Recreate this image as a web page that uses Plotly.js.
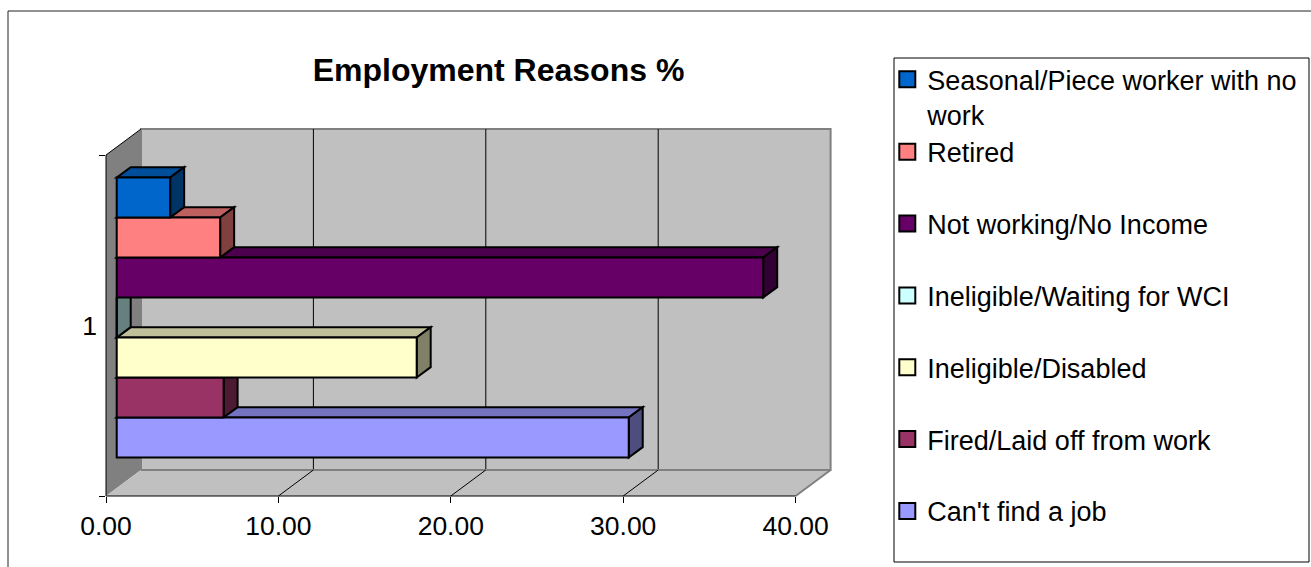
<!DOCTYPE html>
<html><head><meta charset="utf-8">
<script src="https://cdn.plot.ly/plotly-3.0.1.min.js"></script>
<style>html,body{margin:0;padding:0;background:#fff;overflow:hidden}#chart{width:1311px;height:567px}</style>
</head><body><div id="chart"></div>
<script>
// ---------------- data ----------------
const CATEGORIES = ['1'];
const SERIES = ["Can't find a job", "Fired/Laid off from work", "Ineligible/Disabled",
  "Ineligible/Waiting for WCI", "Not working/No Income", "Retired", "Seasonal/Piece worker with no work"];
const LEGEND_LABELS = ["Can't find a job", "Fired/Laid off from work", "Ineligible/Disabled",
  "Ineligible/Waiting for WCI", "Not working/No Income", "Retired", "Seasonal/Piece worker with no<br>work"];
const VALUES = [29.7, 6.2, 17.4, 0.0, 37.5, 6.0, 3.1];
const COLORS = ['#9999FF', '#993366', '#FFFFCC', '#CCFFFF', '#660066', '#FF8080', '#0066CC'];
const X_TICKS = [0, 10, 20, 30, 40];
const X_MAX = 40;
const TITLE = 'Employment Reasons %';

// ---------------- layout geometry (pixels) ----------------
const FONT = 'Liberation Sans, Arial, Helvetica, sans-serif';
const PL = 96, PR = 841, PT = 40, PB = 506;
const W = PR - PL, H = PB - PT;
const FRONT_X0 = 106;
const FRONT_TOP = 155, FRONT_BOT = 496;
const SX = 17.24;
const SY = FRONT_BOT - FRONT_TOP;
const FYC = (FRONT_TOP + FRONT_BOT) / 2;
const DXP = 35, DYP = 26;
const BF = 0.306, BD = 0.4;
const BAR_PX = 40;

const barX0 = FRONT_X0 + BF * DXP;
const barYC = FYC - BF * DYP;
const xRange = [(PL - barX0) / SX, (PR - barX0) / SX];
const yRange = [(barYC - PB) / SY, (barYC - PT) / SY];
const x2Range = [0, (PR - FRONT_X0) / SX];
const y2Range = [-0.5, -0.5 + (FRONT_BOT - PT) / SY];
const DXU = DXP / SX, DYU = DYP / SY;
function P(f, v, yb) { return [v + (f - BF) * DXU, yb + (f - BF) * DYU]; }
const pxX = px => (px - PL) / W;
const pxY = py => (PB - py) / H;

const n = VALUES.length;
const bargap = 1 - n * BAR_PX / SY;
const bandW = (1 - bargap) / n;

function shade(hex, k) {
  const c = parseInt(hex.slice(1), 16);
  const r = Math.round(((c >> 16) & 255) * k), g = Math.round(((c >> 8) & 255) * k), b = Math.round((c & 255) * k);
  return `rgb(${r},${g},${b})`;
}

const shapes = [];
function poly(pts, fill, lc, lw) {
  const path = 'M' + pts.map(p => p[0].toFixed(5) + ',' + p[1].toFixed(5)).join('L') + 'Z';
  shapes.push({type: 'path', xref: 'x', yref: 'y', path, fillcolor: fill,
    line: {color: lc, width: lw}, layer: 'below'});
}
function seg(a, b, color, width) {
  shapes.push({type: 'line', xref: 'x', yref: 'y', x0: a[0], y0: a[1], x1: b[0], y1: b[1],
    line: {color, width}, layer: 'below'});
}

// back wall
poly([P(1, 0, -0.5), P(1, 0, 0.5), P(1, X_MAX, 0.5), P(1, X_MAX, -0.5)], '#C0C0C0', '#808080', 2);
X_TICKS.filter(v => v > 0 && v < X_MAX).forEach(v => seg(P(1, v, -0.5), P(1, v, 0.5), '#000', 1));
// left wall
poly([P(0, 0, -0.5), P(0, 0, 0.5), P(1, 0, 0.5), P(1, 0, -0.5)], '#808080', 'rgba(0,0,0,0)', 0);
seg(P(0, 0, 0.5), P(1, 0, 0.5), '#000', 1);
seg(P(0, 0, -0.5), P(0, 0, 0.5), '#000', 1);
// floor
poly([P(0, 0, -0.5), P(1, 0, -0.5), P(1, X_MAX, -0.5), P(0, X_MAX, -0.5)], '#C0C0C0', 'rgba(0,0,0,0)', 0);
seg(P(1, 0, -0.5), P(1, X_MAX, -0.5), '#808080', 2);
X_TICKS.filter(v => v > 0 && v < X_MAX).forEach(v => seg(P(0, v, -0.5), P(1, v, -0.5), '#000', 1));
seg(P(0, X_MAX, -0.5), P(1, X_MAX, -0.5), '#808080', 2);
seg(P(0, 0, -0.5), P(0, X_MAX, -0.5), '#000', 1);

// 3D faces of the bars (bottom bar first)
VALUES.forEach((v, i) => {
  const lo = -0.5 + bargap / 2 + i * bandW, hi = lo + bandW;
  const f0 = BF, f1 = BF + BD;
  poly([P(f0, 0, hi), P(f0, v, hi), P(f1, v, hi), P(f1, 0, hi)], shade(COLORS[i], 0.75), '#000', 2);
  poly([P(f0, v, lo), P(f1, v, lo), P(f1, v, hi), P(f0, v, hi)], shade(COLORS[i], 0.5), '#000', 2);
});

// outer chart frame and legend box (paper)
shapes.push({type: 'line', xref: 'paper', yref: 'paper', x0: pxX(8), y0: pxY(11), x1: pxX(1320), y1: pxY(11), line: {color: '#222', width: 1}});
shapes.push({type: 'line', xref: 'paper', yref: 'paper', x0: pxX(8), y0: pxY(11), x1: pxX(8), y1: pxY(580), line: {color: '#222', width: 1}});
shapes.push({type: 'rect', xref: 'paper', yref: 'paper', x0: pxX(894), y0: pxY(58), x1: pxX(1309), y1: pxY(562), line: {color: '#000', width: 1}, fillcolor: 'rgba(0,0,0,0)'});

const traces = SERIES.map((name, i) => ({
  type: 'bar', orientation: 'h', name: LEGEND_LABELS[i], x: [VALUES[i]], y: CATEGORIES,
  marker: {color: COLORS[i], line: {color: '#000', width: 2}},
  legend: i === n - 1 ? 'legend' : 'legend2', legendgroup: 'g' + i, legendrank: n - i,
  xaxis: 'x', yaxis: 'y', hovertemplate: name + ': %{x:.2f}<extra></extra>'
}));
// empty trace that registers the front (labelled) axes x2/y2
traces.push({type: 'scatter', x: [], y: [], xaxis: 'x2', yaxis: 'y2', showlegend: false, hoverinfo: 'skip'});

const LFS = 27;
const tickFont = {family: FONT, size: 26.5, color: '#000'};
const legendFont = {family: FONT, size: LFS, color: '#000'};
const itemH = LFS * 1.3 + 3;
const layout = {
  width: 1311, height: 567,
  margin: {l: PL, r: 1311 - PR, t: PT, b: 567 - PB, autoexpand: false},
  paper_bgcolor: '#fff', plot_bgcolor: 'rgba(0,0,0,0)',
  font: {family: FONT, color: '#000'},
  barmode: 'group', bargap: bargap, bargroupgap: 0,
  title: {text: TITLE, font: {family: FONT, size: 32, weight: 'bold', color: '#000'},
    xref: 'paper', x: pxX(498.5), xanchor: 'center', yref: 'container', y: 1 - 69.5 / 567, yanchor: 'middle'},
  xaxis: {range: xRange, showgrid: false, zeroline: false, showline: false, showticklabels: false, ticks: '', fixedrange: true},
  yaxis: {type: 'category', range: yRange, showgrid: false, zeroline: false, showline: false, showticklabels: false, ticks: '', fixedrange: true},
  xaxis2: {anchor: 'y2', domain: [pxX(FRONT_X0), 1], range: x2Range, type: 'linear',
    tickmode: 'array', tickvals: X_TICKS, tickformat: '.2f', ticks: 'outside', ticklen: 6, tickwidth: 1, tickcolor: '#000',
    showgrid: false, zeroline: false, showline: false, tickfont: tickFont},
  yaxis2: {anchor: 'x2', domain: [pxY(FRONT_BOT), 1], type: 'linear', range: y2Range,
    tickmode: 'array', tickvals: [0], ticktext: CATEGORIES, ticks: '', ticklabelstandoff: 8,
    minor: {tickmode: 'array', tickvals: [-0.5, 0.5], ticks: 'outside', ticklen: 6, tickwidth: 1, tickcolor: '#000', showgrid: false},
    showgrid: false, zeroline: false, showline: false, tickfont: tickFont},
  legend: {x: pxX(887.3), xanchor: 'left', y: pxY(55.1), yanchor: 'top', bgcolor: 'rgba(0,0,0,0)', borderwidth: 0,
    font: legendFont, valign: 'top', traceorder: 'normal'},
  legend2: {x: pxX(887.3), xanchor: 'left', y: pxY(127.65), yanchor: 'top', bgcolor: 'rgba(0,0,0,0)', borderwidth: 0,
    font: legendFont, valign: 'top', traceorder: 'grouped', tracegroupgap: 71.84 - itemH},
  shapes: shapes,
  showlegend: true
};

Plotly.newPlot('chart', traces, layout, {displayModeBar: false, staticPlot: true}).then(() => {
  document.querySelectorAll('.legendpoints path').forEach(p => p.setAttribute('d', 'M8,8H-8V-8H8Z'));
});
</script>
</body></html>
